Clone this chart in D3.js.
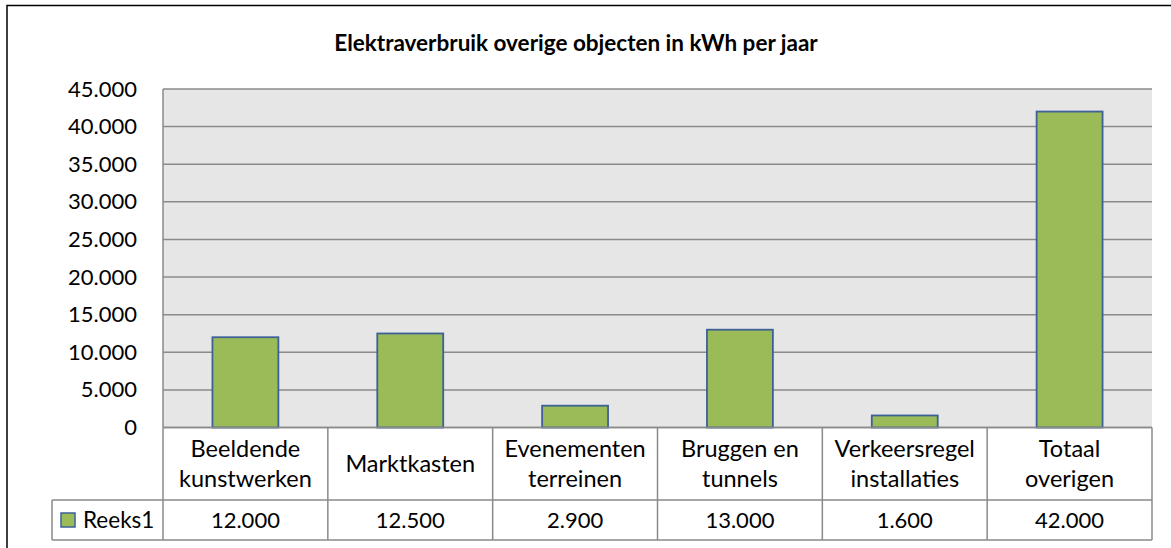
<!DOCTYPE html>
<html>
<head>
<meta charset="utf-8">
<script src="https://cdn.jsdelivr.net/npm/d3@7"></script>
<style>
  body { margin: 0; background: #fff; }
  svg { display: block; font-family: Lato, "Open Sans", sans-serif; }
</style>
</head>
<body>
<div id="chart"></div>
<script>
// data
const categories = ["Beeldende kunstwerken", "Marktkasten", "Evenementen terreinen",
    "Bruggen en tunnels", "Verkeersregel installaties", "Totaal overigen"];
const categoryLines = [["Beeldende", "kunstwerken"], ["Marktkasten"], ["Evenementen", "terreinen"],
    ["Bruggen en", "tunnels"], ["Verkeersregel", "installaties"], ["Totaal", "overigen"]];
const values = [12000, 12500, 2900, 13000, 1600, 42000];
const seriesName = "Reeks1";
const yTicks = [0, 5000, 10000, 15000, 20000, 25000, 30000, 35000, 40000, 45000];
const title = "Elektraverbruik overige objecten in kWh per jaar";

const width = 1171, height = 548;
const plot = {left: 163, right: 1152, top: 89, bottom: 427.5};
const rowCat = {top: 427.5, bottom: 500};
const rowVal = {top: 500, bottom: 540};
const legendLeft = 52;

const nl = d3.formatLocale({decimal: ",", thousands: ".", grouping: [3], currency: ["€", ""]});
const fmt = nl.format(",d");

const svg = d3.select("#chart").append("svg")
    .attr("width", width)
    .attr("height", height);

// outer chart border
svg.append("rect")
    .attr("x", 7).attr("y", 5.5)
    .attr("width", width + 20).attr("height", height + 20)
    .attr("fill", "none")
    .attr("stroke", "#000")
    .attr("stroke-width", 1.5);

const x = d3.scaleBand()
    .domain(categories)
    .range([plot.left, plot.right])
    .paddingInner(0.6)
    .paddingOuter(0.3);

const xCol = d3.scaleBand()
    .domain(categories)
    .range([plot.left, plot.right]);

const y = d3.scaleLinear()
    .domain([0, 45000])
    .range([plot.bottom, plot.top]);

// plot background
svg.append("rect")
    .attr("x", plot.left).attr("y", plot.top)
    .attr("width", plot.right - plot.left).attr("height", plot.bottom - plot.top)
    .attr("fill", "#e6e6e6");

// gridlines
svg.append("g")
    .attr("class", "grid")
    .selectAll("line")
    .data(yTicks)
    .enter().append("line")
    .attr("x1", plot.left).attr("x2", plot.right)
    .attr("y1", d => y(d)).attr("y2", d => y(d))
    .attr("stroke", "#8a8a8a")
    .attr("stroke-width", 1.5);

svg.append("line")
    .attr("x1", plot.left).attr("x2", plot.left)
    .attr("y1", plot.top).attr("y2", plot.bottom)
    .attr("stroke", "#8a8a8a")
    .attr("stroke-width", 1.5);

// y axis labels
const yAxis = d3.axisLeft(y)
    .tickValues(yTicks)
    .tickFormat(d => fmt(d))
    .tickSize(0)
    .tickPadding(0);

svg.append("g")
    .attr("transform", `translate(137,0)`)
    .call(yAxis)
    .call(g => g.select(".domain").remove())
    .call(g => g.selectAll("text")
        .attr("font-family", "Lato, sans-serif")
        .attr("font-size", 22)
        .attr("fill", "#000"));

// bars
svg.append("g")
    .attr("class", "bars")
    .selectAll("rect")
    .data(values)
    .enter().append("rect")
    .attr("x", (d, i) => x(categories[i]))
    .attr("y", d => y(d))
    .attr("width", x.bandwidth())
    .attr("height", d => plot.bottom - y(d))
    .attr("fill", "#9bbb59")
    .attr("stroke", "#3d6196")
    .attr("stroke-width", 1.8);

// data table
const table = svg.append("g").attr("class", "table")
    .attr("stroke", "#8a8a8a")
    .attr("stroke-width", 1.5);

table.append("line")
    .attr("x1", plot.left).attr("x2", plot.right)
    .attr("y1", rowCat.top).attr("y2", rowCat.top);
table.append("line")
    .attr("x1", legendLeft).attr("x2", plot.right)
    .attr("y1", rowVal.top).attr("y2", rowVal.top);
table.append("line")
    .attr("x1", legendLeft).attr("x2", plot.right)
    .attr("y1", rowVal.bottom).attr("y2", rowVal.bottom);
table.append("line")
    .attr("x1", legendLeft).attr("x2", legendLeft)
    .attr("y1", rowVal.top).attr("y2", rowVal.bottom);

table.selectAll(".col")
    .data(categories.concat(["end"]))
    .enter().append("line")
    .attr("class", "col")
    .attr("x1", d => d === "end" ? plot.right : xCol(d))
    .attr("x2", d => d === "end" ? plot.right : xCol(d))
    .attr("y1", rowCat.top).attr("y2", rowVal.bottom);

const txt = svg.append("g")
    .attr("fill", "#000")
    .attr("text-anchor", "middle");

// category labels
categoryLines.forEach((lines, i) => {
    const cx = xCol(categories[i]) + xCol.bandwidth() / 2;
    const mid = (rowCat.top + rowCat.bottom) / 2;
    const lh = 30;
    lines.forEach((line, j) => {
        txt.append("text")
            .attr("x", cx)
            .attr("y", mid + (j - (lines.length - 1) / 2) * lh)
            .attr("dy", "0.36em")
            .attr("font-size", 23.5)
            .text(line);
    });
});

// value labels
txt.selectAll(".val")
    .data(values)
    .enter().append("text")
    .attr("class", "val")
    .attr("x", (d, i) => xCol(categories[i]) + xCol.bandwidth() / 2)
    .attr("y", (rowVal.top + rowVal.bottom) / 2)
    .attr("dy", "0.36em")
    .attr("font-size", 22)
    .text(d => fmt(d));

// legend key
const midVal = (rowVal.top + rowVal.bottom) / 2;
svg.append("rect")
    .attr("x", 61).attr("y", midVal - 7)
    .attr("width", 14).attr("height", 14)
    .attr("fill", "#9bbb59")
    .attr("stroke", "#3d6196")
    .attr("stroke-width", 1.5);
svg.append("text")
    .attr("x", 83).attr("y", midVal)
    .attr("dy", "0.36em")
    .attr("font-size", 22.5)
    .text(seriesName);

// title
svg.append("text")
    .attr("x", 576).attr("y", 43)
    .attr("dy", "0.36em")
    .attr("text-anchor", "middle")
    .attr("font-size", 22.5)
    .attr("font-weight", "bold")
    .text(title);
</script>
</body>
</html>
